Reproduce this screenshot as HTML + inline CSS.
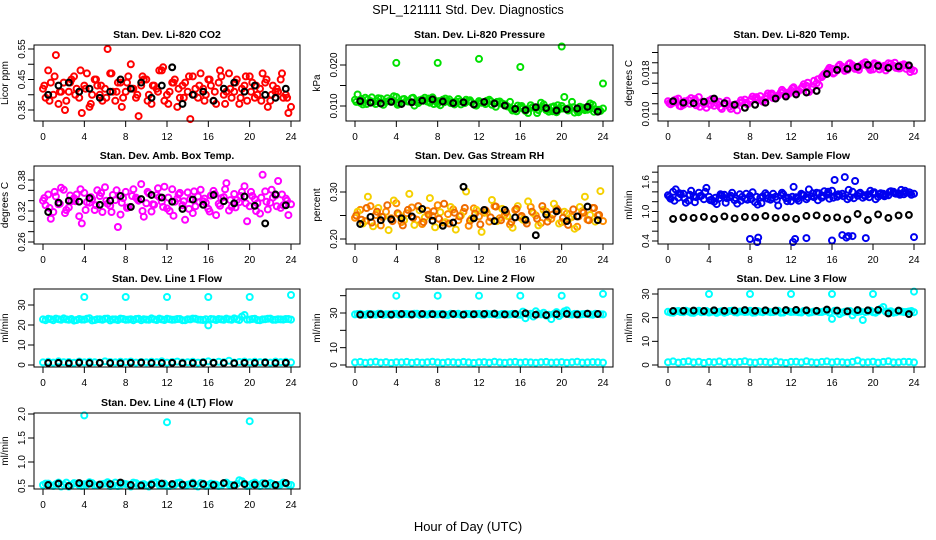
<!DOCTYPE html>
<html><head><meta charset="utf-8"><title>SPL_121111 Std. Dev. Diagnostics</title>
<style>
html,body{margin:0;padding:0;background:#fff;}
svg{display:block;font-family:"Liberation Sans",Arial,sans-serif;}
.ttl{font-size:10.5px;font-weight:bold;text-anchor:middle;}
.tk{font-size:10px;text-anchor:middle;}
.yl{font-size:10px;text-anchor:middle;}
</style></head>
<body>
<svg id="chart" width="936" height="540" viewBox="0 0 936 540">
<text x="468" y="14" font-size="12.5" text-anchor="middle">SPL_121111  Std. Dev. Diagnostics</text>
<text x="468" y="531" font-size="13" text-anchor="middle">Hour of Day (UTC)</text>
</svg>
<script>
// ---- data ----
const X_TICKS=[0,4,8,12,16,20,24];
// P1 CO2
const P1_A=[.42,.48,.40,.37,.44,.41,.46,.39,.43,.36,.45,.40,.42,.47,.38,.44,.41,.50,.39,.43,.45,.37,.42,.48,.40,.44,.36,.43,.41,.46,.39,.42,.45,.38,.44,.40,.47,.41,.37,.43,.46,.39,.42,.44,.38,.41,.45,.40,.36];
const P1_B=[.39,.44,.53,.41,.38,.45,.42,.34,.47,.40,.43,.38,.55,.41,.44,.39,.46,.42,.33,.45,.40,.43,.48,.38,.41,.45,.39,.44,.32,.42,.47,.40,.43,.37,.46,.41,.39,.45,.42,.38,.44,.40,.47,.36,.43,.41,.39,.34];
const P1_C=[.43,.38,.46,.41,.35,.44,.40,.48,.42,.37,.45,.43,.39,.47,.41,.36,.44,.42,.40,.46,.38,.43,.41,.49,.37,.44,.42,.39,.46,.40,.43,.38,.45,.41,.48,.37,.42,.44,.39,.46,.41,.43,.38,.45,.40,.42,.47,.39];
const P1_K=[.40,.43,.44,.41,.42,.39,.41,.45,.42,.44,.39,.43,.49,.37,.40,.41,.38,.42,.44,.41,.43,.40,.39,.42];
const P1_YT=[.35,.40,.45,.50,.55]; const P1_YL=["0.35","","0.45","","0.55"];
// P2 Pressure
const P2_A=[.0115,.0108,.0120,.0112,.0105,.0118,.0110,.0114,.0122,.0107,.0113,.0119,.0109,.0116,.0111,.0121,.0106,.0115,.0112,.0108,.0117,.0110,.0113,.0105,.0112,.0109,.0115,.0107,.0111,.0104,.0110,.0092,.0098,.0088,.0102,.0095,.0108,.0090,.0097,.0085,.0100,.0093,.0110,.0088,.0096,.0091,.0103,.0087,.0094];
const P2_B=[.0128,.0104,.0116,.0109,.0119,.0103,.0112,.0124,.0106,.0117,.0111,.0101,.0114,.0120,.0108,.0113,.0102,.0118,.0107,.0111,.0104,.0115,.0109,.0101,.0108,.0113,.0103,.0110,.0106,.0099,.0089,.0101,.0094,.0083,.0097,.0090,.0104,.0086,.0099,.0092,.0122,.0095,.0084,.0098,.0090,.0106,.0092,.0088];
const P2_C=[.0110,.0117,.0105,.0121,.0112,.0108,.0119,.0114,.0103,.0116,.0111,.0120,.0107,.0113,.0118,.0105,.0112,.0109,.0116,.0104,.0111,.0107,.0114,.0102,.0109,.0105,.0112,.0098,.0106,.0101,.0094,.0087,.0100,.0092,.0096,.0083,.0098,.0091,.0087,.0102,.0094,.0089,.0097,.0085,.0093,.0099,.0086,.0091];
const P2_SH=[4,8,12,16,20,24]; const P2_SV=[.0205,.0205,.0215,.0195,.0245,.0155];
const P2_K=[.0112,.0108,.0106,.0110,.0105,.0109,.0113,.0116,.0111,.0107,.0109,.0104,.0110,.0106,.0101,.0093,.0090,.0097,.0095,.0089,.0092,.0094,.0098,.0086];
const P2_YT=[.010,.015,.020]; const P2_YL=["0.010","","0.020"];
// P3 Temp
const P3_A=[.0125,.0122,.0130,.0118,.0127,.0121,.0133,.0119,.0126,.0116,.0124,.0120,.0114,.0118,.0122,.0128,.0125,.0131,.0135,.0129,.0138,.0133,.0142,.0137,.0146,.0140,.0150,.0155,.0148,.0160,.0172,.0182,.0188,.0185,.0192,.0186,.0195,.0190,.0198,.0193,.0187,.0196,.0191,.0199,.0194,.0189,.0197,.0192,.0184];
const P3_B=[.0119,.0128,.0115,.0124,.0131,.0117,.0123,.0112,.0129,.0121,.0110,.0126,.0117,.0107,.0123,.0119,.0134,.0127,.0124,.0140,.0131,.0136,.0144,.0139,.0152,.0145,.0158,.0143,.0165,.0156,.0178,.0190,.0181,.0196,.0184,.0199,.0188,.0194,.0201,.0186,.0197,.0192,.0185,.0198,.0190,.0195,.0188,.0187];
const P3_C=[.0121,.0127,.0116,.0125,.0120,.0129,.0114,.0122,.0118,.0126,.0113,.0121,.0110,.0119,.0127,.0122,.0129,.0133,.0127,.0135,.0140,.0134,.0147,.0141,.0150,.0144,.0153,.0161,.0152,.0168,.0175,.0186,.0179,.0193,.0189,.0197,.0191,.0186,.0196,.0190,.0199,.0187,.0194,.0192,.0200,.0189,.0195,.0182];
const P3_K=[.0125,.0122,.0121,.0124,.0130,.0121,.0118,.0112,.0118,.0122,.0130,.0134,.0138,.0142,.0145,.0178,.0186,.0188,.0192,.0196,.0194,.0190,.0193,.0195];
const P3_YT=[.008,.010,.012,.014,.016,.018,.020,.022]; const P3_YL=["","0.010","","","","0.018","",""];
// P4 Amb box temp
const P4_A=[.340,.352,.318,.333,.361,.327,.345,.310,.355,.336,.322,.349,.366,.330,.341,.313,.357,.328,.346,.372,.335,.319,.351,.338,.325,.362,.344,.331,.356,.316,.348,.339,.324,.359,.334,.347,.321,.353,.337,.368,.329,.343,.315,.358,.336,.350,.326,.344,.333];
const P4_B=[.331,.305,.348,.365,.322,.339,.352,.296,.337,.343,.360,.318,.334,.351,.289,.345,.327,.362,.340,.309,.354,.332,.347,.367,.320,.338,.355,.303,.343,.329,.361,.336,.350,.312,.345,.374,.328,.341,.357,.300,.349,.335,.390,.323,.346,.378,.331,.312];
const P4_C=[.345,.326,.357,.334,.316,.350,.339,.362,.322,.347,.331,.355,.340,.318,.360,.336,.326,.349,.343,.320,.357,.333,.364,.328,.346,.311,.352,.339,.324,.358,.337,.344,.319,.353,.330,.362,.341,.327,.349,.335,.357,.320,.346,.338,.361,.329,.352,.340];
const P4_K=[.318,.336,.340,.338,.345,.332,.340,.349,.328,.343,.351,.346,.338,.324,.342,.332,.351,.339,.335,.348,.330,.296,.352,.331];
const P4_YT=[.26,.28,.30,.32,.34,.36,.38]; const P4_YL=["0.26","","","0.32","","","0.38"];
// P5 Gas RH
const P5_A=[.245,.262,.238,.270,.251,.229,.258,.244,.276,.236,.255,.267,.241,.232,.260,.249,.272,.235,.253,.263,.240,.258,.228,.265,.248,.256,.237,.270,.244,.252,.231,.262,.246,.239,.268,.250,.234,.258,.243,.265,.236,.254,.247,.226,.259,.241,.266,.250,.238];
const P5_B=[.258,.233,.290,.227,.266,.247,.219,.282,.252,.240,.296,.230,.261,.246,.287,.225,.257,.236,.268,.220,.250,.301,.243,.262,.215,.256,.283,.238,.264,.249,.224,.270,.241,.280,.255,.229,.262,.246,.275,.233,.258,.244,.222,.268,.290,.251,.237,.302];
const P5_C=[.250,.241,.266,.235,.258,.247,.272,.238,.255,.229,.262,.245,.270,.236,.252,.259,.243,.275,.233,.256,.248,.266,.239,.254,.231,.261,.246,.269,.240,.257,.236,.264,.249,.233,.258,.243,.270,.237,.252,.261,.245,.230,.263,.248,.256,.240,.266,.251];
const P5_K=[.232,.247,.240,.242,.244,.248,.264,.239,.228,.235,.311,.244,.262,.238,.262,.246,.241,.208,.252,.259,.238,.248,.269,.240];
const P5_YT=[.20,.25,.30]; const P5_YL=["0.20","","0.30"];
// P6 Sample flow
const P6_A=[1.33,1.40,1.28,1.36,1.22,1.31,1.38,1.25,1.30,1.20,1.27,1.34,1.29,1.23,1.35,1.26,1.32,1.19,1.28,1.37,1.24,1.30,1.33,1.27,1.21,1.29,1.36,1.25,1.31,1.38,1.28,1.34,1.42,1.30,1.36,1.25,1.40,1.32,1.28,1.35,1.38,1.30,1.36,1.33,1.40,1.37,1.35,1.39,1.36];
const P6_B=[1.26,1.45,1.35,1.18,1.42,1.29,1.32,1.48,1.24,1.15,1.33,1.27,1.38,1.16,1.30,1.24,1.39,1.14,1.31,1.26,1.36,1.12,1.35,1.28,1.50,1.22,1.33,1.45,1.29,1.37,1.41,1.26,1.64,1.33,1.70,1.29,1.62,1.38,1.31,1.42,1.25,1.37,1.33,1.41,1.36,1.44,1.38,1.34];
const P6_C=[1.30,1.22,1.37,1.26,1.34,1.19,1.31,1.40,1.23,1.28,1.35,1.18,1.32,1.27,1.22,1.36,1.25,1.30,1.17,1.33,1.28,1.24,1.38,1.21,1.30,1.26,1.34,1.29,1.37,1.23,1.32,1.40,1.28,1.35,1.31,1.44,1.27,1.36,1.33,1.29,1.39,1.35,1.31,1.40,1.37,1.34,1.42,1.38];
const P6_SH=[8,8.7,8.8,12.2,12.4,13.5,16,17,17.4,17.6,18,19.3,24]; const P6_SV=[.44,.38,.47,.38,.44,.46,.41,.52,.47,.50,.50,.46,.48];
const P6_K=[.85,.88,.87,.89,.85,.90,.86,.89,.88,.91,.87,.88,.85,.91,.92,.87,.88,.84,.95,.83,.94,.87,.92,.93];
const P6_YT=[.4,.6,.8,1.0,1.2,1.4,1.6,1.8]; const P6_YL=["0.4","","","1.0","","","1.6",""];
// P7 Line 1
const P7_A=[22.8,23.1,22.4,22.9,23.3,22.6,22.2,23.0,22.7,23.4,22.5,22.9,23.1,22.3,22.8,23.2,22.6,22.9,23.0,22.4,22.7,23.3,22.5,22.8,23.1,22.6,23.0,22.4,22.9,23.2,22.7,22.5,19.8,22.9,23.0,22.6,22.8,23.3,22.5,25.0,22.7,23.1,22.4,22.9,23.2,22.6,22.8,23.0,22.7];
const P7_B=[22.4,22.9,23.2,22.6,22.8,23.0,22.5,22.7,23.1,22.3,22.9,22.6,23.2,22.8,22.5,23.0,22.7,22.4,23.1,22.9,22.6,22.8,23.2,22.5,22.9,22.7,23.0,22.4,22.8,23.1,22.6,22.9,23.0,22.5,22.8,23.2,22.6,22.9,24.2,22.7,23.0,22.5,22.8,23.1,22.6,22.9,22.7,23.0];
const P7_L=[1.3,1.6,1.2,1.8,1.4,1.5,1.1,1.7,1.3,1.6,1.4,1.2,1.8,1.5,1.3,1.6,1.4,1.7,1.2,1.5,1.3,1.6,1.4,1.8,1.2,1.5,1.7,1.3,1.4,1.6,1.2,1.5,1.8,1.3,1.6,1.4,2.1,1.2,1.5,1.7,1.3,1.6,1.4,1.5,1.2,1.7,1.4,1.6,1.3];
const P7_SH=[4,8,12,16,20,24]; const P7_SV=[34,34,34,34,34,35];
const P7_K=[1.0,1.1,0.9,1.2,1.0,1.1,1.0,0.9,1.1,1.2,1.0,1.0,1.1,0.9,1.0,1.2,1.1,1.0,0.9,1.1,1.0,1.2,1.0,1.1];
const P7_YT=[0,10,20,30]; const P7_YL=["0","10","20","30"];
// P8 Line 2
const P8_A=[29.2,29.5,29.0,29.4,29.1,29.6,29.3,28.9,29.5,29.2,29.4,29.0,29.6,29.3,29.1,29.5,29.2,29.4,28.9,29.3,29.6,29.1,29.4,29.2,29.5,29.0,29.3,29.6,29.1,29.4,29.2,29.5,29.0,27.0,29.6,31.0,29.2,28.5,26.5,30.5,29.4,31.5,29.1,29.5,29.3,29.6,29.0,29.4,29.2];
const P8_B=[29.4,29.1,29.5,29.2,29.6,29.0,29.3,29.5,29.1,29.4,29.2,29.6,29.0,29.3,29.5,29.2,29.4,29.1,29.6,29.3,29.0,29.5,29.2,29.4,29.1,29.6,29.3,29.0,29.4,29.2,29.5,29.1,30.8,29.3,28.0,29.6,30.2,29.0,29.4,28.2,30.9,29.3,29.5,29.1,29.4,29.2,29.6,29.3];
const P8_L=[1.5,1.8,1.3,1.6,1.9,1.4,1.7,1.2,1.6,1.5,1.8,1.3,1.7,1.4,1.6,1.9,1.5,1.3,1.7,1.6,1.4,1.8,1.5,1.2,1.6,1.7,1.4,1.9,1.5,1.3,1.6,1.8,1.4,1.7,1.5,1.3,1.6,1.8,1.4,1.5,1.7,1.3,1.6,1.9,1.4,1.5,1.7,1.6,1.4];
const P8_SH=[4,8,12,16,20,24]; const P8_SV=[40,40,40,40,40,41];
const P8_K=[29.0,29.2,29.3,29.1,29.4,29.2,29.5,29.3,29.2,29.4,29.1,29.3,29.5,29.6,29.2,29.4,29.8,29.0,28.8,29.3,29.5,29.2,29.6,29.4];
const P8_YT=[0,10,20,30,40]; const P8_YL=["0","10","","30",""];
// P9 Line 3
const P9_A=[22.5,22.1,22.8,22.3,22.6,22.0,22.9,22.4,22.2,22.7,22.5,22.1,22.8,22.3,22.6,22.4,22.9,22.2,22.5,22.7,22.3,22.6,22.1,22.8,22.4,22.5,22.2,22.9,22.3,22.6,22.4,22.8,19.5,22.5,22.2,22.7,21.0,22.4,19.0,22.6,22.3,22.8,24.5,22.5,22.1,22.7,22.4,22.6,22.3];
const P9_B=[22.2,22.7,22.4,22.9,22.1,22.6,22.3,22.8,22.5,22.0,22.7,22.4,22.9,22.2,22.6,22.5,22.1,22.8,22.3,22.6,22.4,22.9,22.2,22.7,22.5,22.3,22.8,22.1,22.6,22.4,22.7,22.2,22.9,21.5,22.5,22.8,22.3,22.6,22.4,22.9,22.1,23.8,22.5,22.7,22.3,22.6,22.4,22.8];
const P9_L=[1.2,1.5,1.0,1.3,1.6,1.1,1.4,0.9,1.3,1.2,1.5,1.0,1.4,1.1,1.3,1.6,1.2,1.0,1.4,1.3,1.1,1.5,1.2,0.9,1.3,1.4,1.1,1.6,1.2,1.0,1.3,1.5,1.1,1.4,1.2,1.0,1.3,1.9,1.1,1.2,1.4,1.0,1.3,1.6,1.1,1.2,1.4,1.3,1.1];
const P9_SH=[4,8,12,16,20,24]; const P9_SV=[30,30,30,30,30,31];
const P9_K=[22.8,22.9,23.0,22.8,23.1,22.9,23.0,23.2,22.9,23.1,23.0,23.2,23.3,23.1,22.9,23.4,23.0,22.7,23.2,23.1,23.3,21.8,23.0,21.5];
const P9_YT=[0,10,20,30]; const P9_YL=["0","10","20","30"];
// P10 Line 4
const P10_A=[.52,.55,.50,.57,.53,.49,.56,.52,.54,.58,.51,.53,.55,.50,.57,.52,.54,.49,.56,.53,.51,.55,.58,.52,.50,.54,.56,.51,.53,.57,.49,.55,.52,.54,.50,.56,.53,.51,.62,.55,.52,.57,.50,.54,.56,.51,.53,.55,.52];
const P10_B=[.55,.51,.54,.49,.57,.52,.55,.50,.53,.56,.51,.54,.58,.52,.50,.55,.53,.57,.51,.54,.49,.56,.52,.55,.50,.53,.57,.51,.54,.52,.56,.50,.55,.53,.51,.57,.52,.54,.60,.50,.55,.53,.56,.51,.54,.52,.57,.53];
const P10_SH=[4,12,20]; const P10_SV=[1.97,1.83,1.85];
const P10_K=[.52,.55,.50,.56,.55,.53,.54,.57,.52,.51,.53,.55,.54,.53,.55,.54,.52,.56,.51,.54,.53,.55,.52,.56];
const P10_YT=[.5,1.0,1.5,2.0]; const P10_YL=["0.5","1.0","1.5","2.0"];

// ---- drawing ----
const NS="http://www.w3.org/2000/svg";
const svg=document.getElementById('chart');
function mk(tag,attrs,parent){const e=document.createElementNS(NS,tag);for(const k in attrs)e.setAttribute(k,attrs[k]);(parent||svg).appendChild(e);return e;}
function lin(v1,p1,v2,p2){return v=>p1+(v-v1)*(p2-p1)/(v2-v1);}
const gridA=n=>Array.from({length:n},(_,i)=>i*0.5);
const gridB=n=>Array.from({length:n},(_,i)=>0.25+i*0.5);
const gridC=n=>Array.from({length:n},(_,i)=>0.125+i*0.5);
const gridK=n=>Array.from({length:n},(_,i)=>0.5+i*23/(n-1));

function panel(o){
  const g=mk('g',{});
  
  
  const [L,T,R,B]=o.box;
  const xs=lin(0,o.x0,24,o.x24), ys=lin(o.yv[0],o.yv[1],o.yv[2],o.yv[3]);
  const t=mk('text',{x:(L+R)/2,y:T-7,class:'ttl'},g); t.textContent=o.title;
  
  
  const yl=mk('text',{x:0,y:0,class:'yl',transform:`translate(${L-26},${(T+B)/2}) rotate(-90)`},g); yl.textContent=o.ylab;
  
  
  X_TICKS.forEach(v=>{const x=xs(v);
    mk('line',{x1:x,x2:x,y1:B,y2:B+6,stroke:'#000','stroke-width':1},g);
    const l=mk('text',{x:x,y:B+19,class:'tk'},g); l.textContent=v;
    
    });
  o.yt.forEach((v,i)=>{const y=ys(v); if(y<T-1||y>B+1)return;
    mk('line',{x1:L-6,x2:L,y1:y,y2:y,stroke:'#000','stroke-width':1},g);
    if(o.yl[i]){const l=mk('text',{x:0,y:0,class:'tk',transform:`translate(${L-9},${y}) rotate(-90)`},g); l.textContent=o.yl[i];
      
      }});
  const cg=mk('g',{},g);
  o.series.forEach(s=>{
    const hrs=s.h||(s.grid==='B'?gridB(s.v.length):s.grid==='C'?gridC(s.v.length):s.grid==='K'?gridK(s.v.length):gridA(s.v.length));
    s.v.forEach((v,i)=>{const y=ys(v); if(y<T-4||y>B+4)return;
      const c=mk('circle',{cx:xs(hrs[i]).toFixed(1),cy:y.toFixed(1),r:s.k?2.9:3,fill:'none',stroke:s.c,'stroke-width':s.k?2.1:2},cg);
      
      });
  });
  const bx=mk('rect',{x:L,y:T,width:R-L,height:B-T,fill:'none',stroke:'#000','stroke-width':1},g);
  
  
}
const C1={x0:43,x24:291}, C2={x0:355,x24:603}, C3={x0:668,x24:914};
panel({name:'panel-co2',title:'Stan. Dev. Li-820 CO2',ylab:'Licor ppm',box:[34,45,300,121],...C1,yv:[.55,49,.35,110],yt:P1_YT,yl:P1_YL,
 series:[{v:P1_A,c:'#f00',n:'co2-point'},{v:P1_B,grid:'B',c:'#f00',n:'co2-point'},{v:P1_C,grid:'C',c:'#f00',n:'co2-point'},{v:P1_K,grid:'K',c:'#000',k:1,n:'co2-hourly-point'}]});
panel({name:'panel-pressure',title:'Stan. Dev. Li-820 Pressure',ylab:'kPa',box:[346,45,613,121],...C2,yv:[.020,65,.010,106],yt:P2_YT,yl:P2_YL,
 series:[{v:P2_A,c:'#00e000',n:'pressure-point'},{v:P2_B,grid:'B',c:'#00e000',n:'pressure-point'},{v:P2_C,grid:'C',c:'#00e000',n:'pressure-point'},{v:P2_SV,h:P2_SH,c:'#00e000',n:'pressure-spike'},{v:P2_K,grid:'K',c:'#000',k:1,n:'pressure-hourly-point'}]});
panel({name:'panel-temp',title:'Stan. Dev. Li-820 Temp.',ylab:'degrees C',box:[658,45,925,121],...C3,yv:[.018,73,.010,114],yt:P3_YT,yl:P3_YL,
 series:[{v:P3_A,c:'#f0f',n:'temp-point'},{v:P3_B,grid:'B',c:'#f0f',n:'temp-point'},{v:P3_C,grid:'C',c:'#f0f',n:'temp-point'},{v:P3_K,grid:'K',c:'#000',k:1,n:'temp-hourly-point'}]});
panel({name:'panel-amb-box-temp',title:'Stan. Dev. Amb. Box Temp.',ylab:'degrees C',box:[34,166,300,244],...C1,yv:[.38,180,.26,242],yt:P4_YT,yl:P4_YL,
 series:[{v:P4_A,c:'#f0f',n:'box-temp-point'},{v:P4_B,grid:'B',c:'#f0f',n:'box-temp-point'},{v:P4_C,grid:'C',c:'#f0f',n:'box-temp-point'},{v:P4_K,grid:'K',c:'#000',k:1,n:'box-temp-hourly-point'}]});
panel({name:'panel-gas-rh',title:'Stan. Dev. Gas Stream RH',ylab:'percent',box:[346,166,613,244],...C2,yv:[.30,192,.20,239],yt:P5_YT,yl:P5_YL,
 series:[{v:P5_A,c:'#ff8c00',n:'rh-point'},{v:P5_B,grid:'B',c:'#f5d000',n:'rh-point'},{v:P5_C,grid:'C',c:'#ee6a00',n:'rh-point'},{v:P5_K,grid:'K',c:'#000',k:1,n:'rh-hourly-point'}]});
panel({name:'panel-sample-flow',title:'Stan. Dev. Sample Flow',ylab:'ml/min',box:[658,166,925,244],...C3,yv:[1.6,182,.4,241],yt:P6_YT,yl:P6_YL,
 series:[{v:P6_A,c:'#0000f0',n:'sample-flow-point'},{v:P6_B,grid:'B',c:'#0000f0',n:'sample-flow-point'},{v:P6_C,grid:'C',c:'#0000f0',n:'sample-flow-point'},{v:P6_SV,h:P6_SH,c:'#0000f0',n:'sample-flow-outlier'},{v:P6_K,grid:'K',c:'#000',k:1,n:'sample-flow-hourly-point'}]});
panel({name:'panel-line1-flow',title:'Stan. Dev. Line 1 Flow',ylab:'ml/min',box:[34,289,300,367],...C1,yv:[0,365,30,305],yt:P7_YT,yl:P7_YL,
 series:[{v:P7_A,c:'#00ffff',n:'line1-point'},{v:P7_B,grid:'B',c:'#00ffff',n:'line1-point'},{v:P7_L,c:'#00ffff',n:'line1-low-point'},{v:P7_SV,h:P7_SH,c:'#00ffff',n:'line1-spike'},{v:P7_K,grid:'K',c:'#000',k:1,n:'line1-hourly-point'}]});
panel({name:'panel-line2-flow',title:'Stan. Dev. Line 2 Flow',ylab:'ml/min',box:[346,289,613,367],...C2,yv:[0,365,30,313],yt:P8_YT,yl:P8_YL,
 series:[{v:P8_A,c:'#00ffff',n:'line2-point'},{v:P8_B,grid:'B',c:'#00ffff',n:'line2-point'},{v:P8_L,c:'#00ffff',n:'line2-low-point'},{v:P8_SV,h:P8_SH,c:'#00ffff',n:'line2-spike'},{v:P8_K,grid:'K',c:'#000',k:1,n:'line2-hourly-point'}]});
panel({name:'panel-line3-flow',title:'Stan. Dev. Line 3 Flow',ylab:'ml/min',box:[658,289,925,367],...C3,yv:[0,365,30,294],yt:P9_YT,yl:P9_YL,
 series:[{v:P9_A,c:'#00ffff',n:'line3-point'},{v:P9_B,grid:'B',c:'#00ffff',n:'line3-point'},{v:P9_L,c:'#00ffff',n:'line3-low-point'},{v:P9_SV,h:P9_SH,c:'#00ffff',n:'line3-spike'},{v:P9_K,grid:'K',c:'#000',k:1,n:'line3-hourly-point'}]});
panel({name:'panel-line4-flow',title:'Stan. Dev. Line 4 (LT) Flow',ylab:'ml/min',box:[34,413,300,489],...C1,yv:[2.0,414,.5,486],yt:P10_YT,yl:P10_YL,
 series:[{v:P10_A,c:'#00ffff',n:'line4-point'},{v:P10_B,grid:'B',c:'#00ffff',n:'line4-point'},{v:P10_SV,h:P10_SH,c:'#00ffff',n:'line4-spike'},{v:P10_K,grid:'K',c:'#000',k:1,n:'line4-hourly-point'}]});
</script>
</body></html>
